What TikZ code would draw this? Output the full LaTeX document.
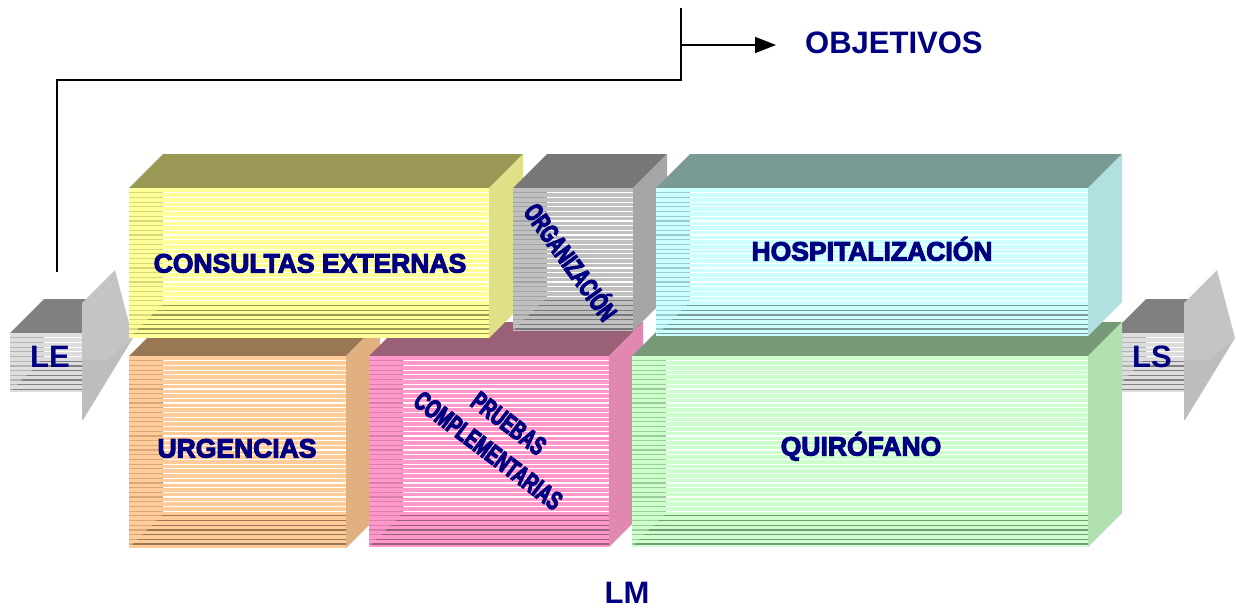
\documentclass[tikz,border=0pt]{standalone}
\usepackage{fontspec}
\setmainfont{Liberation Sans}
\newfontfamily\gruesa[UprightFeatures={FakeBold=4}, BoldFeatures={FakeBold=4}]{Liberation Sans}
\newfontfamily\estrecha[FakeStretch=0.66, UprightFeatures={FakeBold=4}, BoldFeatures={FakeBold=4}]{Liberation Sans}
\usetikzlibrary{arrows.meta}

\definecolor{azul}{HTML}{000080}
% Consultas externas
\definecolor{consFrente}{HTML}{FFFF99}
\definecolor{consTapa}{HTML}{999955}
\definecolor{consLado}{HTML}{E0E088}
\definecolor{consBorde}{HTML}{D8D878}
% Organizacion
\definecolor{orgFrente}{HTML}{C0C0C0}
\definecolor{orgTapa}{HTML}{777777}
\definecolor{orgLado}{HTML}{A6A6A6}
\definecolor{orgBorde}{HTML}{A4A4A4}
% Hospitalizacion
\definecolor{hospFrente}{HTML}{CCFFFF}
\definecolor{hospTapa}{HTML}{7A9A96}
\definecolor{hospLado}{HTML}{B0E0E0}
\definecolor{hospBorde}{HTML}{99CCCC}
% Urgencias
\definecolor{urgFrente}{HTML}{FFCC99}
\definecolor{urgTapa}{HTML}{997755}
\definecolor{urgLado}{HTML}{E0B080}
\definecolor{urgBorde}{HTML}{D8A878}
% Pruebas complementarias
\definecolor{pruFrente}{HTML}{FF99CC}
\definecolor{pruTapa}{HTML}{996077}
\definecolor{pruLado}{HTML}{E088B0}
\definecolor{pruBorde}{HTML}{D880A8}
% Quirofano
\definecolor{quiFrente}{HTML}{CCFFCC}
\definecolor{quiTapa}{HTML}{779977}
\definecolor{quiLado}{HTML}{B0E0B0}
\definecolor{quiBorde}{HTML}{99CC99}
% Flechas LE / LS
\definecolor{fleFrente}{HTML}{DDDDDD}
\definecolor{fleTapa}{HTML}{808080}
\definecolor{fleBorde}{HTML}{B4B4B4}
\definecolor{flePunta}{HTML}{C4C4C4}
\definecolor{flePuntaB}{HTML}{BDBDBD}

% caja 3D rayada: x, y (esquina sup. izq. del frente), ancho, alto, colores, cara lateral
\newcommand{\caja}[6]{%
  \fill[#5Tapa] (#1,-#2) -- ++(34,34) -- ++(#3,0) -- ++(-34,-34) -- cycle;
  \path[fill=#6] (#1+#3,-#2) -- ++(34,34) -- ++(0,-#4) -- ++(-34,-34) -- cycle;
  \fill[#5Frente] (#1,-#2) rectangle ++(#3,-#4);
  \begin{scope}
    \clip (#1,-#2) rectangle ++(#3,-#4);
    \pgfmathtruncatemacro{\nrayas}{#4/4.7}
    \foreach \k in {1,...,\nrayas}
      \draw[raya, #5Borde] (#1,-#2-\k*4.7) -- ++(#3,0);
    \begin{scope}
      \clip (#1+34,-#2) rectangle (#1+#3,-#2-#4+34);
      \foreach \k in {1,...,\nrayas}
        \draw[raya, white] (#1,-#2-\k*4.7) -- ++(#3,0);
    \end{scope}
    \begin{scope}
      \clip (#1,-#2-#4) -- ++(#3,0) -- ++(0,34) -- (#1+34,-#2-#4+34) -- cycle;
      \foreach \k in {1,...,\nrayas}
        \draw[raya, #5Tapa] (#1,-#2-\k*4.7) -- ++(#3,0);
    \end{scope}
  \end{scope}
}

\begin{document}
\begin{tikzpicture}[x=1pt, y=1pt,
    raya/.style={line width=1.2pt},
    linea/.style={line width=1.6pt, black},
    etiqueta/.style={font=\gruesa\fontsize{26.5}{34}\selectfont\bfseries, text=azul, inner sep=0pt, align=center},
    girada/.style={font=\estrecha\fontsize{26.5}{34}\selectfont\bfseries},
    plana/.style={text height=19pt, text depth=0pt},
    titulo/.style={font=\fontsize{31}{34}\selectfont\bfseries, text=azul, inner sep=0pt}]
    \useasboundingbox (0,0) rectangle (1236,-608);

    % Objetivos
    \node[titulo, anchor=west] (objetivos) at (805,-42.5) {OBJETIVOS};
    \coordinate (inicio) at (57,-272);
    \coordinate (esquina) at (681,-80);
    \coordinate (tope) at (681,-8);
    \coordinate (rama) at (681,-45);
    \draw[linea] (inicio) |- (esquina) -- (tope);
    \draw[linea, -{Triangle[length=21pt, width=16pt]}, shorten >=29pt] (rama) -- (rama -| objetivos.west);

    % Flechas de entrada y salida
    \foreach \dx/\nom/\txt in {0/le/LE, 1102/ls/LS} {
        \begin{scope}[xshift=\dx]
            \caja{10}{333}{74}{59}{fle}{none}
            \fill[flePunta] (82,-303) -- (115,-270) -- (133,-338) -- (106,-360) -- (82,-360) -- cycle;
            \fill[flePuntaB] (82,-360) -- (106,-360) -- (133,-338) -- (83,-420) -- (82,-420) -- cycle;
            \node[titulo] (\nom) at (50,-356.5) {\txt};
        \end{scope}
    }

    % Fila inferior
    \caja{129}{356}{217}{192}{urg}{urgLado}
    \caja{369}{356}{240}{191}{pru}{pruLado}
    \caja{632}{356}{456}{191}{qui}{quiLado}

    % Fila superior
    \caja{129}{188}{360}{150}{cons}{consLado}
    \caja{513}{188}{120}{143}{org}{orgLado}
    \caja{656}{188}{432}{148}{hosp}{hospLado}

    % Textos
    \node[etiqueta, plana] (t-cons) at (310,-263) {CONSULTAS EXTERNAS};
    \node[etiqueta, girada, plana, rotate=-54] (t-org) at (570.5,-262) {ORGANIZACIÓN};
    \node[etiqueta, plana] (t-hosp) at (872,-251) {HOSPITALIZACIÓN};
    \node[etiqueta, plana] (t-urg) at (237,-448) {URGENCIAS};
    \node[etiqueta, girada, rotate=-37] (t-pru) at (498.5,-437) {PRUEBAS\\COMPLEMENTARIAS};
    \node[etiqueta, plana] (t-qui) at (861,-446) {QUIRÓFANO};
    \node[titulo] (lm) at (627,-593) {LM};
\end{tikzpicture}
\end{document}
